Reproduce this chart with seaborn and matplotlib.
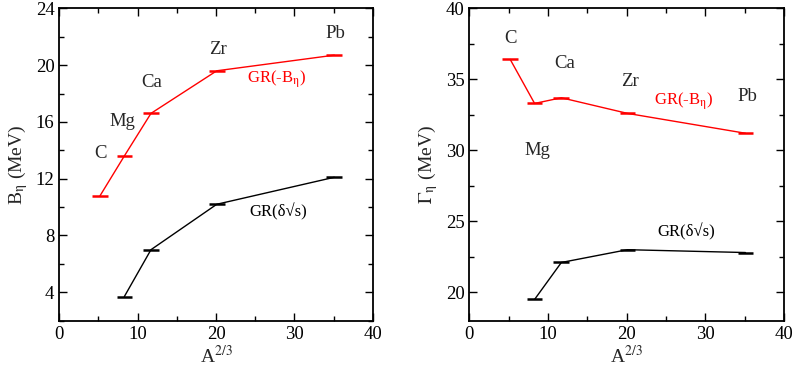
import matplotlib
matplotlib.use("Agg")
import matplotlib.pyplot as plt
from matplotlib.ticker import MultipleLocator
import seaborn as sns
import pandas as pd

# ---- data ----
nuclei = ["C", "Mg", "Ca", "Zr", "Pb"]
x_all = [5.2, 8.3, 11.7, 20.1, 35.1]          # A^(2/3)
x_black = [8.3, 11.7, 20.1, 35.1]
xerr = 1.0

B_red = [10.8, 13.6, 16.6, 19.6, 20.7]         # GR(-B_eta)
B_black = [3.7, 7.0, 10.2, 12.1]               # GR(delta sqrt s)
G_red = [36.4, 33.3, 33.7, 32.6, 31.2]
G_black = [19.5, 22.1, 23.0, 22.8]

# label positions (data coords)
left_lbl_x = [5.3, 8.1, 11.8, 20.3, 35.3]
left_lbl_y = [13.8, 16.0, 18.8, 21.1, 22.2]
right_lbl_x = [5.2, 8.6, 12.1, 20.4, 35.4]
right_lbl_y = [37.9, 30.0, 36.1, 34.85, 33.8]

sns.set_theme(style="ticks")
plt.rcParams["font.family"] = ["Liberation Serif", "DejaVu Serif"]
plt.rcParams["mathtext.fontset"] = "stix"

fig = plt.figure(figsize=(7.95, 3.69), dpi=100)
ax1 = fig.add_axes([0.0746, 0.1309, 0.4688 - 0.0746, 0.9775 - 0.1309])
ax2 = fig.add_axes([0.5903, 0.1309, 0.9862 - 0.5903, 0.9775 - 0.1309])


def draw(ax, xr, yr, xb, yb):
    dr = pd.DataFrame({"x": xr, "y": yr})
    db = pd.DataFrame({"x": xb, "y": yb})
    sns.lineplot(data=dr, x="x", y="y", ax=ax, color="red", lw=1.0, sort=False)
    sns.lineplot(data=db, x="x", y="y", ax=ax, color="black", lw=1.0, sort=False)
    ax.errorbar(xr, yr, xerr=xerr, fmt="none", ecolor="red", elinewidth=1.8, capsize=0)
    ax.errorbar(xb, yb, xerr=xerr, fmt="none", ecolor="black", elinewidth=1.8, capsize=0)


draw(ax1, x_all, B_red, x_black, B_black)
draw(ax2, x_all, G_red, x_black, G_black)

for ax in (ax1, ax2):
    ax.set_xlim(0, 40)
    ax.xaxis.set_major_locator(MultipleLocator(10))
    ax.xaxis.set_minor_locator(MultipleLocator(5))
    ax.tick_params(which="both", direction="in", top=True, right=True,
                   labelsize=13.5, width=1.0, colors="black")
    ax.tick_params(which="major", length=6)
    ax.tick_params(which="minor", length=3.5)
    for s in ax.spines.values():
        s.set_linewidth(1.3)
        s.set_color("black")
    ax.set_xlabel("A$^{2/3}$", fontsize=14, labelpad=2)

ax1.set_ylim(2, 24)
ax1.yaxis.set_major_locator(MultipleLocator(4))
ax1.yaxis.set_minor_locator(MultipleLocator(2))
ax1.set_ylabel("B$_{\\mathrm{\\eta}}$ (MeV)", fontsize=14, labelpad=4)

ax2.set_ylim(18, 40)
ax2.yaxis.set_major_locator(MultipleLocator(5))
ax2.yaxis.set_minor_locator(MultipleLocator(2.5))
ax2.set_ylabel("$\\Gamma_{\\mathrm{\\eta}}$ (MeV)", fontsize=14, labelpad=4)

for n, xx, yy in zip(nuclei, left_lbl_x, left_lbl_y):
    ax1.text(xx, yy, n, fontsize=13.5, ha="center", va="center")
for n, xx, yy in zip(nuclei, right_lbl_x, right_lbl_y):
    ax2.text(xx, yy, n, fontsize=13.5, ha="center", va="center")

ax1.text(27.7, 19.0, "GR(-B$_{\\mathrm{\\eta}}$)", color="red", fontsize=12, ha="center", va="center")
ax1.text(28.0, 9.65, "GR(δ√s)", color="black", fontsize=12, ha="center", va="center")
ax2.text(27.2, 33.45, "GR(-B$_{\\mathrm{\\eta}}$)", color="red", fontsize=12, ha="center", va="center")
ax2.text(27.6, 24.25, "GR(δ√s)", color="black", fontsize=12, ha="center", va="center")

fig.savefig("out.png", dpi=100)
